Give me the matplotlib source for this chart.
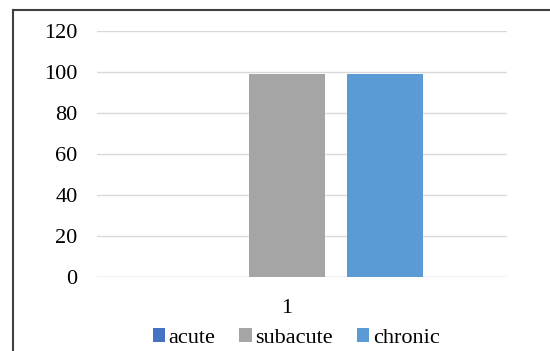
import matplotlib.pyplot as plt
from matplotlib.lines import Line2D

plt.rcParams['font.family'] = 'serif'
plt.rcParams['font.serif'] = ['Liberation Serif', 'DejaVu Serif']

# data
categories = ['1']
series_names = ['acute', 'subacute', 'chronic']
series_values = [0, 99, 99]
series_colors = ['#4472C4', '#A5A5A5', '#5B9BD5']

fig = plt.figure(figsize=(5.5, 3.51), dpi=100)
ax = fig.add_axes([97/550, 1-277/351, 410/550, 246/351])

bar_w = 0.776
for i, (name, val, col) in enumerate(zip(series_names, series_values, series_colors)):
    ax.bar(i - 1, val, width=bar_w, color=col, label=name, zorder=3)

ax.set_xlim(-1.93, 2.24)
ax.set_ylim(0, 120)
ax.set_yticks(range(0, 121, 20))
ax.set_xticks([0])
ax.set_xticklabels(categories)
ax.yaxis.grid(True, color='#D9D9D9', linewidth=1, zorder=0)
ax.tick_params(length=0, labelsize=16, colors='#000000')
ax.tick_params(axis='x', pad=16)
ax.tick_params(axis='y', pad=14)
for s in ax.spines.values():
    s.set_visible(False)
ax.axhline(0, color='#D9D9D9', linewidth=1, zorder=2)

fig.legend(loc='center', bbox_to_anchor=(296/550, 1-338/351), ncol=3,
           frameon=False, fontsize=16, handlelength=0.55, handleheight=0.55,
           handletextpad=0.15, columnspacing=1.1, borderaxespad=0)

# outer chart frame (top and left edges)
fig.add_artist(Line2D([13/550, 1.0], [1-10/351, 1-10/351], color='#404040', linewidth=1.5))
fig.add_artist(Line2D([13/550, 13/550], [0.0, 1-10/351], color='#404040', linewidth=1.5))

fig.savefig('out.png', dpi=100)
